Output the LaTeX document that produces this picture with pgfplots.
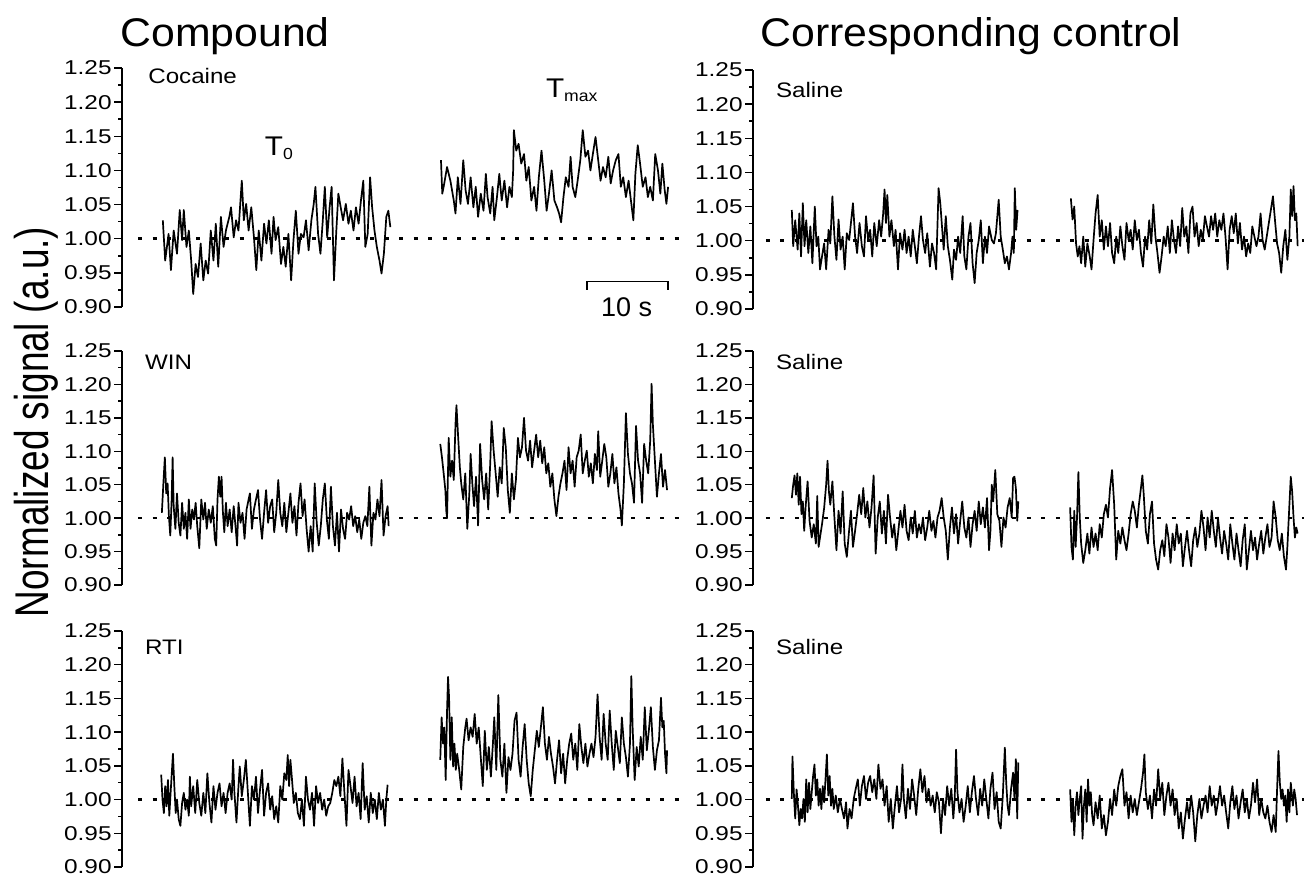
\documentclass[border=0pt]{standalone}
\usepackage{fontspec}
\setmainfont{Liberation Sans}
\usepackage{graphicx}
\usepackage{pgfplots}
\pgfplotsset{compat=1.18}

% one px of the reference = 0.5pt
\pgfplotsset{
  panel/.style={
    scale only axis, clip=false,
    hide x axis, axis y line*=left, axis line style={-, line width=0.75pt},
    xmin=0, ymin=0.90, ymax=1.25,
    ytick={0.9,0.95,1,1.05,1.1,1.15,1.2,1.25},
    minor y tick num=1, tick align=outside,
    major tick length=4pt, minor tick length=2pt,
    every tick/.style={black, line width=0.75pt},
    yticklabel style={font=\fontsize{10}{11}\selectfont, inner xsep=1pt},
    yticklabel={\scalebox{1.22}[1]{\pgfmathprintnumber[fixed,fixed zerofill,precision=2,assume math mode=true]{\tick}}},
  },
  left panel/.style={panel, xmax=70, width=283.5pt},
  right panel/.style={panel, xmax=68, width=275.4pt},
  sig/.style={black, line width=0.85pt, line join=round},
  dotline/.style={black, line width=1.3pt, dash pattern=on 2pt off 5.25pt},
}
\newcommand{\plab}[1]{\fontsize{10.5}{12}\selectfont\scalebox{1.15}[1]{#1}}
\newcommand{\tlab}[1]{\fontsize{13.5}{15}\selectfont\scalebox{1.1}[1]{T\textsubscript{\fontsize{8}{9}\selectfont #1}}}

\begin{document}
\begin{tikzpicture}
\path[use as bounding box] (0,0) rectangle (652pt,-439pt);

% titles
\node[anchor=base west, inner sep=0pt, font=\fontsize{20}{22}\selectfont] at (60pt,-23pt) {\scalebox{1.07}[1]{Compound}};
\node[anchor=base west, inner sep=0pt, font=\fontsize{20}{22}\selectfont] at (380pt,-23pt) {\scalebox{1.07}[1]{Corresponding control}};
\node[anchor=base, rotate=90, inner sep=0pt, font=\fontsize{18.5}{20}\selectfont] at (24pt,-211pt) {\scalebox{1}[1.28]{Normalized signal (a.u.)}};

% ---------- Cocaine ----------
\begin{axis}[left panel, height=119.5pt, at={(61pt,-153.5pt)}, anchor=south west]
\addplot[dotline] coordinates {(2,1) (70,1)};
% T0
\addplot[sig] coordinates {
(5.04,1.027)(5.33,0.968)(5.75,1.007)(6.04,0.954)(6.38,1.012)(6.79,0.978)(7.13,1.042)(7.42,0.998)(7.63,1.042)(7.96,0.988)
(8.25,1.012)(8.54,0.968)(8.79,0.919)(9.09,0.963)(9.38,0.944)(9.71,0.993)(10.04,0.939)(10.33,0.968)(10.63,0.949)(10.96,1.012)
(11.29,0.968)(11.58,1.022)(11.88,0.959)(12.21,1.032)(12.54,0.988)(12.83,1.012)(13.25,1.032)(13.46,1.046)(13.79,1.002)(14.08,1.027)
(14.38,1.012)(14.79,1.085)(15.04,1.027)(15.33,1.051)(15.63,1.012)(15.96,1.046)(16.29,1.002)(16.58,0.954)(16.88,1.012)(17.21,0.968)
(17.54,1.022)(17.83,0.993)(18.13,1.027)(18.46,0.978)(18.71,1.032)(18.96,0.998)(19.29,1.017)(19.63,0.963)(19.92,0.988)(20.21,0.959)
(20.54,1.007)(20.88,0.939)(21.17,0.998)(21.46,1.041)(21.79,0.978)(22.08,1.007)(22.42,1.002)(22.71,1.027)(23.04,0.983)(23.38,1.027)
(23.67,1.051)(23.88,1.076)(24.21,1.007)(24.50,0.978)(24.79,1.027)(25.04,1.076)(25.33,1.002)(25.63,1.046)(25.88,1.076)(26.17,0.939)
(26.46,1.012)(26.71,1.066)(27.00,1.046)(27.29,1.027)(27.63,1.051)(27.96,1.022)(28.25,1.041)(28.58,1.012)(28.88,1.046)(29.21,1.022)
(29.50,1.056)(29.79,1.085)(30.04,0.988)(30.33,1.007)(30.63,1.090)(30.88,1.046)(31.17,1.012)(31.46,0.988)(31.79,0.968)(32.04,0.949)
(32.33,0.978)(32.63,1.032)(32.88,1.041)(33.13,1.017)
};
% Tmax
\addplot[sig] coordinates {
(39.38,1.115)(39.54,1.066)(39.71,1.076)(40.13,1.105)(40.54,1.085)(40.96,1.056)(41.17,1.037)(41.46,1.090)(41.79,1.051)(42.13,1.115)
(42.42,1.071)(42.71,1.051)(43.04,1.090)(43.38,1.046)(43.67,1.076)(43.96,1.032)(44.29,1.066)(44.63,1.041)(44.92,1.095)(45.13,1.061)
(45.46,1.037)(45.75,1.076)(45.96,1.027)(46.29,1.061)(46.58,1.095)(46.88,1.056)(47.21,1.085)(47.54,1.046)(47.83,1.076)(48.13,1.061)
(48.29,1.100)(48.38,1.159)(48.67,1.129)(48.96,1.139)(49.29,1.110)(49.63,1.124)(49.92,1.085)(50.21,1.105)(50.54,1.056)(50.88,1.076)
(51.17,1.041)(51.46,1.090)(51.79,1.129)(52.13,1.085)(52.42,1.041)(52.71,1.066)(53.04,1.100)(53.38,1.056)(53.71,1.046)(53.96,1.037)
(54.21,1.024)(54.50,1.061)(54.79,1.090)(55.13,1.076)(55.38,1.120)(55.63,1.076)(55.96,1.061)(56.25,1.085)(56.58,1.115)(56.88,1.159)
(57.21,1.120)(57.54,1.129)(57.83,1.100)(58.13,1.124)(58.46,1.149)(58.79,1.115)(59.08,1.085)(59.38,1.105)(59.71,1.090)(60.04,1.120)
(60.33,1.081)(60.63,1.100)(60.96,1.115)(61.29,1.124)(61.58,1.076)(61.88,1.090)(62.21,1.061)(62.54,1.085)(62.83,1.056)(63.13,1.027)
(63.38,1.095)(63.67,1.137)(63.96,1.110)(64.29,1.076)(64.63,1.090)(64.92,1.061)(65.21,1.076)(65.54,1.056)(65.83,1.124)(66.17,1.100)
(66.46,1.066)(66.71,1.110)(67.00,1.071)(67.21,1.051)(67.42,1.076)
};
\node[anchor=base west, inner sep=0pt] at (axis cs:3.2,1.227) {\plab{Cocaine}};
\node[anchor=base west, inner sep=0pt] at (axis cs:17.6,1.122) {\tlab{0}};
\node[anchor=base west, inner sep=0pt] at (axis cs:52.3,1.207) {\tlab{max}};
\draw[black, line width=0.75pt] (axis cs:57.4,0.925) -- (axis cs:57.4,0.937) -- (axis cs:67.4,0.937) -- (axis cs:67.4,0.925);
\node[inner sep=0pt, font=\fontsize{13.5}{15}\selectfont] at (axis cs:62.3,0.899) {10 s};
\end{axis}

% ---------- Saline (top) ----------
\begin{axis}[right panel, height=119.5pt, at={(376.5pt,-154.5pt)}, anchor=south west]
\addplot[dotline] coordinates {(1.6,1) (68,1)};
\addplot[sig] coordinates {
(4.79,1.045)(4.96,0.992)(5.21,1.030)(5.51,0.987)(5.72,1.040)(5.93,0.977)(6.15,1.055)(6.36,0.992)(6.57,1.030)(6.83,0.982)
(7.08,1.021)(7.33,0.967)(7.63,1.050)(7.84,0.992)(8.06,1.006)(8.27,0.958)(8.52,0.977)(8.78,0.996)(9.03,0.958)(9.33,1.016)
(9.54,0.996)(9.80,1.065)(10.05,1.006)(10.30,0.972)(10.56,1.031)(10.81,0.987)(11.07,1.006)(11.32,0.958)(11.58,1.011)(11.87,1.001)
(12.09,1.026)(12.34,1.055)(12.60,1.006)(12.85,0.982)(13.15,1.026)(13.44,0.992)(13.70,0.977)(13.95,1.036)(14.21,1.001)(14.46,1.016)
(14.72,0.977)(14.97,1.026)(15.27,0.992)(15.57,1.030)(15.82,1.006)(16.07,1.040)(16.24,1.075)(16.41,1.026)(16.58,1.067)(16.84,1.006)
(17.09,1.030)(17.39,0.992)(17.60,1.016)(17.90,0.958)(18.15,1.011)(18.45,0.987)(18.71,1.016)(18.96,0.982)(19.21,1.006)(19.47,0.977)
(19.72,1.016)(19.98,0.992)(20.23,0.967)(20.49,1.006)(20.74,1.036)(20.98,1.001)(21.25,0.982)(21.51,1.011)(21.84,0.962)(22.10,0.996)
(22.35,0.982)(22.61,0.958)(22.91,1.077)(23.12,1.055)(23.33,1.021)(23.54,0.987)(23.80,1.036)(24.05,0.992)(24.31,0.972)(24.60,0.943)
(24.81,0.987)(25.07,0.972)(25.32,1.006)(25.58,0.982)(25.88,1.036)(26.09,0.977)(26.34,0.958)(26.60,1.006)(26.85,1.026)(27.11,0.967)
(27.36,0.938)(27.61,0.982)(27.87,1.001)(28.12,1.030)(28.38,0.967)(28.63,1.006)(28.89,0.982)(29.14,1.021)(29.48,1.001)(29.74,0.996)
(29.99,1.011)(30.33,1.060)(30.58,1.006)(30.84,0.987)(31.09,0.967)(31.35,0.977)(31.60,0.958)(31.86,0.982)(32.03,1.006)(32.20,0.982)
(32.32,1.077)(32.49,1.016)(32.66,1.045)
};
\addplot[sig] coordinates {
(39.24,1.062)(39.45,1.031)(39.66,1.050)(39.88,0.996)(40.09,0.977)(40.30,0.992)(40.51,0.967)(40.77,1.006)(41.02,0.962)(41.28,0.996)
(41.57,0.977)(41.79,0.958)(42.04,1.001)(42.29,1.040)(42.55,1.067)(42.80,1.006)(43.06,1.030)(43.31,0.987)(43.57,1.021)(43.82,0.992)
(44.08,1.026)(44.33,0.982)(44.59,0.967)(44.84,1.006)(45.09,0.982)(45.35,1.021)(45.60,0.992)(45.86,0.972)(46.11,1.026)(46.37,1.001)
(46.62,1.016)(46.88,0.987)(47.13,1.030)(47.39,1.001)(47.64,1.016)(47.89,0.982)(48.15,0.962)(48.40,1.006)(48.66,0.987)(48.91,1.030)
(49.17,0.996)(49.42,1.053)(49.68,1.006)(49.93,0.982)(50.19,0.953)(50.44,0.977)(50.70,1.006)(50.95,0.992)(51.20,1.021)(51.46,0.982)
(51.71,1.030)(51.97,1.001)(52.22,0.982)(52.48,1.021)(52.73,0.992)(52.99,1.048)(53.24,1.006)(53.50,1.021)(53.75,0.982)(54.00,1.040)
(54.26,1.050)(54.51,1.006)(54.77,1.026)(55.02,0.992)(55.28,1.016)(55.53,1.001)(55.79,1.036)(56.04,1.021)(56.30,1.006)(56.55,1.036)
(56.80,1.016)(57.06,1.040)(57.31,1.006)(57.57,1.030)(57.82,1.016)(58.08,1.040)(58.33,1.006)(58.59,0.958)(58.84,1.016)(59.10,1.036)
(59.35,1.011)(59.60,1.040)(59.86,0.996)(60.11,1.026)(60.37,0.987)(60.62,1.006)(60.88,0.977)(61.13,0.996)(61.39,0.982)(61.64,1.021)
(61.90,1.006)(62.15,0.992)(62.40,1.006)(62.66,1.040)(62.91,1.001)(63.17,0.987)(63.42,1.006)(63.68,1.026)(63.93,1.045)(64.19,1.065)
(64.44,1.030)(64.70,0.996)(64.95,0.982)(65.21,0.953)(65.46,0.992)(65.72,1.016)(65.97,0.972)(66.22,1.006)(66.39,1.075)(66.56,1.036)
(66.73,1.080)(66.90,1.030)(67.07,1.040)(67.24,0.992)
};
\node[anchor=base west, inner sep=0pt] at (axis cs:2.8,1.210) {\plab{Saline}};
\end{axis}

% ---------- WIN ----------
\begin{axis}[left panel, height=117pt, at={(61pt,-292.5pt)}, anchor=south west]
\addplot[dotline] coordinates {(2,1) (70,1)};
\addplot[sig] coordinates {
(4.92,1.008)(5.13,1.057)(5.29,1.091)(5.46,1.037)(5.63,1.052)(5.79,1.003)(5.96,0.974)(6.13,1.028)(6.25,1.091)(6.38,1.018)
(6.59,0.984)(6.79,1.037)(7.00,0.993)(7.21,0.974)(7.42,1.023)(7.63,0.984)(7.83,1.008)(8.04,0.969)(8.25,1.028)(8.46,0.984)
(8.67,1.013)(8.88,0.998)(9.09,1.023)(9.29,0.988)(9.54,0.955)(9.79,1.028)(10.04,0.998)(10.25,1.023)(10.46,0.984)(10.71,1.013)
(10.96,0.993)(11.21,1.018)(11.46,0.969)(11.63,0.959)(11.79,1.028)(11.96,1.062)(12.13,1.032)(12.29,1.062)(12.46,1.008)(12.63,0.979)
(12.83,1.023)(13.04,0.988)(13.29,1.013)(13.54,0.979)(13.79,1.018)(14.04,0.984)(14.21,0.959)(14.38,1.023)(14.63,0.993)(14.88,1.008)
(15.13,0.969)(15.38,1.013)(15.63,1.028)(15.79,1.037)(16.04,0.984)(16.29,1.013)(16.54,1.028)(16.79,1.042)(17.04,0.998)(17.29,0.969)
(17.54,1.008)(17.79,1.042)(18.04,0.993)(18.29,1.018)(18.54,1.028)(18.79,0.979)(19.04,1.008)(19.29,1.057)(19.54,1.008)(19.79,0.988)
(20.04,1.023)(20.29,0.979)(20.54,1.008)(20.79,1.037)(21.04,0.993)(21.29,1.018)(21.54,0.974)(21.79,1.023)(22.04,1.052)(22.29,1.003)
(22.54,1.028)(22.79,0.984)(23.04,0.950)(23.29,0.988)(23.54,0.950)(23.79,1.052)(24.04,0.993)(24.29,0.959)(24.54,0.988)(24.79,1.028)
(25.04,1.052)(25.29,0.998)(25.54,0.969)(25.79,1.047)(26.04,0.988)(26.29,0.959)(26.54,1.008)(26.79,0.950)(27.04,1.013)(27.29,0.984)
(27.54,0.969)(27.79,1.008)(28.04,0.998)(28.29,1.018)(28.54,0.988)(28.79,1.003)(29.04,0.979)(29.29,0.998)(29.54,0.969)(29.79,0.993)
(30.04,1.003)(30.29,0.988)(30.54,1.047)(30.79,0.959)(31.04,1.008)(31.29,0.998)(31.54,1.028)(31.79,1.003)(32.04,1.057)(32.29,0.974)
(32.54,1.003)(32.79,1.018)(32.92,0.988)
};
\addplot[sig] coordinates {
(39.29,1.111)(39.50,1.091)(39.71,1.067)(39.92,1.042)(40.04,1.010)(40.13,1.000)(40.33,1.120)(40.54,1.062)(40.75,1.086)(40.96,1.057)
(41.17,1.140)(41.29,1.169)(41.46,1.130)(41.71,1.076)(41.88,1.052)(42.13,1.028)(42.38,1.067)(42.63,0.984)(42.88,1.037)(43.04,1.096)
(43.25,1.052)(43.46,1.018)(43.71,1.062)(43.96,0.989)(44.21,1.111)(44.46,1.057)(44.71,1.028)(44.96,1.067)(45.21,1.013)(45.46,1.082)
(45.63,1.145)(45.88,1.101)(46.13,1.067)(46.38,1.032)(46.63,1.076)(46.88,1.052)(47.13,1.135)(47.38,1.106)(47.63,1.042)(47.88,1.008)
(48.13,1.067)(48.38,1.028)(48.63,1.057)(48.88,1.120)(49.13,1.091)(49.38,1.106)(49.63,1.150)(49.88,1.101)(50.13,1.086)(50.38,1.116)
(50.63,1.076)(50.88,1.101)(51.13,1.125)(51.38,1.091)(51.63,1.116)(51.88,1.082)(52.13,1.106)(52.38,1.067)(52.63,1.082)(52.88,1.047)
(53.13,1.067)(53.38,1.028)(53.63,1.003)(53.88,1.032)(54.13,1.052)(54.38,1.067)(54.63,1.086)(54.88,1.042)(55.13,1.106)(55.38,1.067)
(55.63,1.086)(55.88,1.047)(56.13,1.091)(56.38,1.101)(56.63,1.125)(56.88,1.067)(57.13,1.086)(57.38,1.101)(57.63,1.062)(57.88,1.082)
(58.13,1.052)(58.38,1.096)(58.63,1.072)(58.79,1.130)(59.04,1.062)(59.29,1.086)(59.54,1.111)(59.79,1.091)(60.04,1.047)(60.29,1.067)
(60.54,1.096)(60.79,1.052)(61.04,1.076)(61.29,1.037)(61.54,1.013)(61.71,0.989)(61.96,1.052)(62.21,1.157)(62.46,1.096)(62.71,1.067)
(62.96,1.052)(63.21,1.023)(63.46,1.138)(63.71,1.086)(63.96,1.067)(64.21,1.023)(64.46,1.111)(64.71,1.086)(64.96,1.067)(65.21,1.116)
(65.38,1.201)(65.54,1.140)(65.79,1.086)(66.04,1.032)(66.29,1.067)(66.54,1.096)(66.79,1.047)(67.04,1.072)(67.29,1.042)
};
\node[anchor=base west, inner sep=0pt] at (axis cs:2.8,1.222) {\plab{WIN}};
\end{axis}

% ---------- Saline (middle) ----------
\begin{axis}[right panel, height=117pt, at={(376.5pt,-292.5pt)}, anchor=south west]
\addplot[dotline] coordinates {(1.6,1) (68,1)};
\addplot[sig] coordinates {
(4.79,1.030)(4.96,1.050)(5.13,1.064)(5.30,1.035)(5.47,1.067)(5.64,1.020)(5.81,1.062)(5.98,1.006)(6.15,1.025)(6.32,0.981)
(6.49,1.016)(6.74,1.055)(6.98,0.996)(7.25,0.971)(7.50,0.991)(7.76,0.962)(7.93,1.033)(8.10,0.957)(8.27,0.971)(8.52,0.991)
(8.78,1.015)(9.03,1.050)(9.20,1.086)(9.37,1.040)(9.54,1.020)(9.80,1.055)(10.05,1.001)(10.30,0.952)(10.56,1.011)(10.81,0.977)
(11.07,1.040)(11.32,0.962)(11.58,0.942)(11.83,0.977)(12.09,1.011)(12.34,0.957)(12.60,0.981)(12.85,1.006)(13.11,1.035)(13.36,1.006)
(13.61,1.045)(13.87,1.001)(14.12,1.025)(14.38,0.986)(14.63,1.016)(14.89,1.064)(15.14,0.947)(15.40,1.001)(15.65,1.025)(15.91,0.977)
(16.16,1.011)(16.41,0.962)(16.67,1.035)(16.92,1.001)(17.18,0.971)(17.43,0.991)(17.69,0.952)(17.94,0.981)(18.20,1.011)(18.45,0.986)
(18.71,1.020)(18.96,0.981)(19.21,0.967)(19.47,1.001)(19.72,0.977)(19.98,1.011)(20.23,0.971)(20.49,0.991)(20.74,0.977)(20.98,1.001)
(21.25,0.967)(21.51,0.986)(21.76,1.011)(22.03,0.981)(22.27,0.996)(22.52,0.971)(22.78,1.001)(23.03,1.011)(23.29,1.030)(23.54,1.001)
(23.80,0.981)(24.05,0.938)(24.31,0.986)(24.56,1.016)(24.81,0.977)(25.07,1.006)(25.32,0.962)(25.58,0.996)(25.83,1.025)(26.09,0.986)
(26.34,0.971)(26.60,1.001)(26.85,0.957)(27.11,0.991)(27.36,1.011)(27.61,0.981)(27.87,1.025)(28.12,0.991)(28.38,1.016)(28.63,0.986)
(28.89,1.030)(29.14,0.952)(29.31,0.981)(29.48,1.050)(29.65,1.025)(29.91,1.072)(30.16,1.006)(30.42,0.996)(30.67,0.957)(30.92,1.001)
(31.18,0.986)(31.43,1.016)(31.69,1.030)(31.94,1.001)(32.11,1.060)(32.28,1.062)(32.45,1.045)(32.62,0.996)(32.75,1.025)
};
\addplot[sig] coordinates {
(39.15,1.016)(39.32,0.957)(39.49,0.938)(39.66,1.011)(39.83,0.957)(40.00,1.001)(40.17,1.069)(40.34,1.001)(40.51,0.962)(40.77,0.933)
(41.02,0.952)(41.28,0.977)(41.53,0.947)(41.79,0.986)(42.04,0.957)(42.29,0.977)(42.55,0.952)(42.80,0.991)(43.06,0.971)(43.31,1.006)
(43.57,1.020)(43.82,1.001)(44.08,1.045)(44.33,1.072)(44.59,1.020)(44.84,0.938)(45.09,0.981)(45.35,0.962)(45.60,0.986)(45.86,0.967)
(46.11,0.952)(46.37,0.977)(46.62,1.006)(46.88,1.025)(47.13,1.011)(47.39,0.986)(47.64,1.020)(47.89,1.045)(48.07,1.064)(48.24,1.035)
(48.49,0.981)(48.75,0.962)(49.00,1.006)(49.26,1.025)(49.51,0.962)(49.76,0.938)(50.02,0.923)(50.27,0.952)(50.53,0.967)(50.78,0.943)
(51.04,0.991)(51.29,0.971)(51.55,0.933)(51.80,0.977)(52.05,0.952)(52.31,0.991)(52.56,0.962)(52.82,0.977)(53.07,0.928)(53.33,0.957)
(53.58,0.981)(53.83,0.952)(54.09,0.928)(54.34,0.967)(54.60,0.986)(54.85,0.957)(55.11,0.977)(55.36,1.011)(55.62,0.986)(55.87,0.952)
(56.12,1.001)(56.38,0.971)(56.63,1.011)(56.89,0.981)(57.14,0.957)(57.40,1.001)(57.65,0.971)(57.91,0.947)(58.16,0.981)(58.41,0.962)
(58.67,0.938)(58.92,0.991)(59.18,0.962)(59.43,0.938)(59.69,0.977)(59.94,0.952)(60.20,0.928)(60.45,0.967)(60.71,0.991)(60.96,0.923)
(61.22,0.952)(61.47,0.981)(61.73,0.952)(61.98,0.971)(62.23,0.938)(62.49,0.962)(62.74,0.981)(63.00,0.947)(63.25,0.971)(63.51,0.991)
(63.76,0.957)(64.02,0.971)(64.27,1.025)(64.53,1.001)(64.78,0.967)(65.03,0.952)(65.29,0.977)(65.54,0.943)(65.80,0.923)(65.97,0.957)
(66.22,1.020)(66.39,1.062)(66.56,1.040)(66.73,1.001)(66.90,0.971)(67.07,0.986)(67.24,0.977)
};
\node[anchor=base west, inner sep=0pt] at (axis cs:2.8,1.222) {\plab{Saline}};
\end{axis}

% ---------- RTI ----------
\begin{axis}[left panel, height=118pt, at={(61pt,-433.5pt)}, anchor=south west]
\addplot[dotline] coordinates {(2,1) (70,1)};
\addplot[sig] coordinates {
(4.84,1.037)(5.00,1.000)(5.17,0.980)(5.33,1.020)(5.50,0.990)(5.67,1.029)(5.84,0.976)(6.00,1.010)(6.17,1.044)(6.29,1.068)
(6.46,1.020)(6.63,0.980)(6.79,1.000)(7.00,0.971)(7.21,0.961)(7.42,0.995)(7.63,1.010)(7.83,0.985)(8.04,1.000)(8.25,0.976)
(8.38,1.034)(8.54,0.990)(8.79,1.020)(9.04,0.980)(9.29,1.029)(9.54,0.995)(9.79,0.976)(10.04,1.010)(10.29,0.980)(10.54,1.039)
(10.79,0.995)(11.04,0.966)(11.29,1.020)(11.54,0.985)(11.79,1.010)(12.04,1.024)(12.29,0.990)(12.54,1.010)(12.79,0.980)(13.04,1.010)
(13.29,1.024)(13.54,1.000)(13.71,1.059)(13.88,1.010)(14.13,0.966)(14.38,1.020)(14.54,1.049)(14.79,1.005)(15.04,1.029)(15.29,1.059)
(15.54,1.010)(15.79,0.961)(16.04,1.020)(16.29,1.000)(16.54,1.034)(16.79,0.980)(17.04,1.015)(17.29,1.044)(17.54,0.976)(17.79,1.010)
(18.04,1.024)(18.29,0.985)(18.54,1.005)(18.79,0.971)(19.04,0.990)(19.29,0.966)(19.54,1.020)(19.79,1.000)(20.04,1.039)(20.29,1.029)
(20.46,1.066)(20.63,1.020)(20.79,1.059)(20.96,1.034)(21.21,0.995)(21.46,1.010)(21.71,0.980)(21.96,0.971)(22.21,1.000)(22.46,0.961)
(22.71,1.034)(22.96,1.000)(23.21,0.985)(23.46,1.010)(23.71,0.961)(23.96,1.020)(24.21,0.995)(24.46,1.010)(24.71,0.985)(24.96,1.000)
(25.21,0.976)(25.46,0.990)(25.71,0.995)(25.96,1.010)(26.21,1.029)(26.46,1.020)(26.71,1.034)(26.96,1.005)(27.21,1.061)(27.46,1.010)
(27.71,0.961)(27.96,1.044)(28.21,1.020)(28.46,0.995)(28.71,1.034)(28.96,0.990)(29.21,1.010)(29.46,0.971)(29.71,1.054)(29.96,0.985)
(30.21,1.005)(30.46,0.966)(30.71,1.010)(30.96,0.980)(31.21,1.000)(31.46,0.971)(31.71,1.010)(31.96,0.985)(32.21,1.000)(32.46,0.961)
(32.63,1.000)(32.79,1.022)
};
\addplot[sig] coordinates {
(39.29,1.059)(39.46,1.122)(39.63,1.083)(39.79,1.107)(39.96,1.029)(40.13,1.132)(40.25,1.182)(40.38,1.151)(40.54,1.059)(40.71,1.122)
(40.88,1.049)(41.04,1.083)(41.21,1.044)(41.38,1.068)(41.63,1.044)(41.88,1.015)(42.13,1.078)(42.38,1.107)(42.54,1.120)(42.79,1.088)
(43.04,1.107)(43.29,1.093)(43.54,1.127)(43.79,1.083)(44.04,1.107)(44.29,1.063)(44.54,1.020)(44.79,1.102)(45.04,1.044)(45.29,1.078)
(45.54,1.034)(45.79,1.083)(45.96,1.122)(46.21,1.044)(46.46,1.155)(46.71,1.059)(46.96,1.034)(47.21,1.083)(47.46,1.010)(47.71,1.063)
(47.96,1.044)(48.21,1.068)(48.46,1.117)(48.71,1.129)(48.96,1.059)(49.21,1.034)(49.46,1.078)(49.71,1.112)(49.96,1.059)(50.21,1.024)
(50.46,1.005)(50.71,1.044)(50.96,1.073)(51.21,1.102)(51.46,1.078)(51.71,1.107)(51.96,1.137)(52.21,1.083)(52.46,1.059)(52.71,1.093)
(52.96,1.068)(53.21,1.049)(53.46,1.024)(53.71,1.059)(53.96,1.088)(54.21,1.039)(54.46,1.068)(54.71,1.024)(54.96,1.059)(55.21,1.083)
(55.46,1.098)(55.71,1.059)(55.96,1.083)(56.21,1.044)(56.46,1.112)(56.71,1.078)(56.96,1.054)(57.21,1.083)(57.46,1.049)(57.71,1.068)
(57.96,1.083)(58.21,1.063)(58.46,1.093)(58.71,1.156)(58.96,1.093)(59.21,1.059)(59.46,1.127)(59.71,1.083)(59.96,1.059)(60.21,1.132)
(60.46,1.083)(60.71,1.044)(60.96,1.102)(61.21,1.078)(61.46,1.054)(61.71,1.122)(61.96,1.083)(62.21,1.063)(62.46,1.034)(62.71,1.083)
(62.88,1.183)(63.04,1.107)(63.29,1.029)(63.54,1.078)(63.79,1.049)(64.04,1.093)(64.29,1.059)(64.54,1.137)(64.79,1.073)(65.04,1.102)
(65.29,1.137)(65.54,1.078)(65.79,1.044)(66.04,1.073)(66.29,1.088)(66.54,1.151)(66.71,1.107)(66.88,1.117)(67.04,1.068)(67.21,1.039)
(67.29,1.073)
};
\node[anchor=base west, inner sep=0pt] at (axis cs:2.8,1.215) {\plab{RTI}};
\end{axis}

% ---------- Saline (bottom) ----------
\begin{axis}[right panel, height=118pt, at={(376.5pt,-433.5pt)}, anchor=south west]
\addplot[dotline] coordinates {(1.6,1) (68,1)};
\addplot[sig] coordinates {
(4.79,1.001)(4.87,1.064)(5.04,1.010)(5.21,0.972)(5.38,1.015)(5.55,0.991)(5.72,0.962)(5.89,0.986)(6.06,0.972)(6.23,1.001)
(6.40,0.967)(6.57,1.030)(6.74,0.981)(6.91,1.025)(7.08,0.986)(7.25,1.011)(7.42,1.035)(7.59,1.052)(7.76,1.006)(7.93,1.030)
(8.10,0.991)(8.27,1.016)(8.44,0.986)(8.61,1.020)(8.78,0.996)(8.95,1.030)(9.12,1.067)(9.29,1.006)(9.46,1.035)(9.63,0.991)
(9.80,1.016)(9.97,0.986)(10.22,1.006)(10.47,0.981)(10.73,1.001)(10.98,0.986)(11.24,0.972)(11.49,0.996)(11.66,0.957)(11.92,0.986)
(12.17,0.972)(12.43,1.001)(12.68,1.016)(12.94,1.030)(13.19,0.991)(13.44,1.020)(13.70,1.035)(13.95,1.001)(14.21,1.025)(14.46,1.035)
(14.72,1.011)(14.97,1.030)(15.23,1.001)(15.48,1.052)(15.74,1.016)(15.99,1.030)(16.24,0.991)(16.50,1.020)(16.75,0.967)(17.01,1.001)
(17.26,0.957)(17.52,0.991)(17.77,1.020)(18.03,0.981)(18.28,1.001)(18.45,1.052)(18.62,1.001)(18.87,0.972)(19.13,1.016)(19.38,0.986)
(19.64,1.030)(19.89,1.006)(20.15,0.977)(20.40,1.016)(20.66,1.045)(20.91,1.011)(21.17,1.035)(21.42,0.996)(21.68,1.016)(21.93,0.991)
(22.18,1.006)(22.44,0.981)(22.69,1.011)(22.95,0.996)(23.20,0.950)(23.46,1.001)(23.71,0.977)(23.97,1.020)(24.22,0.991)(24.48,1.016)
(24.73,0.972)(24.90,1.001)(25.07,1.074)(25.24,1.011)(25.49,0.981)(25.75,1.001)(26.00,0.967)(26.26,0.991)(26.51,1.020)(26.77,0.981)
(27.02,1.011)(27.28,1.035)(27.53,1.001)(27.79,0.977)(28.04,1.016)(28.29,0.991)(28.55,1.030)(28.80,1.001)(29.06,0.972)(29.31,1.016)
(29.57,1.040)(29.82,0.986)(30.08,1.011)(30.33,0.967)(30.58,0.957)(30.84,1.006)(31.09,1.077)(31.26,1.025)(31.43,0.991)(31.60,0.977)
(31.86,1.016)(32.11,1.040)(32.28,1.001)(32.45,1.060)(32.62,0.972)(32.75,1.055)
};
\addplot[sig] coordinates {
(39.15,1.015)(39.32,0.967)(39.49,1.001)(39.66,0.947)(39.83,0.991)(40.00,1.011)(40.17,0.977)(40.34,1.001)(40.51,1.020)(40.68,0.942)
(40.85,0.991)(41.02,1.015)(41.19,0.967)(41.36,1.030)(41.53,0.991)(41.70,1.011)(41.87,0.977)(42.04,0.962)(42.29,0.996)(42.55,0.972)
(42.80,1.006)(43.06,0.957)(43.31,0.977)(43.57,0.947)(43.82,0.967)(44.08,1.001)(44.33,0.977)(44.59,1.015)(44.84,0.991)(45.09,1.020)
(45.35,1.035)(45.60,1.045)(45.86,0.991)(46.11,1.011)(46.37,0.972)(46.62,1.006)(46.88,0.981)(47.13,1.001)(47.39,0.977)(47.64,0.996)
(47.89,1.015)(48.15,1.040)(48.32,1.067)(48.49,1.011)(48.75,0.986)(49.00,1.006)(49.26,0.972)(49.51,1.015)(49.76,0.991)(50.02,1.045)
(50.27,1.001)(50.53,1.025)(50.78,0.977)(51.04,1.006)(51.29,1.025)(51.55,0.991)(51.80,1.015)(52.05,0.977)(52.31,1.001)(52.56,0.957)
(52.82,0.981)(53.07,0.942)(53.33,0.972)(53.58,0.996)(53.83,0.972)(54.09,1.006)(54.34,0.981)(54.60,0.938)(54.85,0.977)(55.11,1.001)
(55.36,0.972)(55.62,0.991)(55.87,1.006)(56.12,0.981)(56.38,1.020)(56.63,0.991)(56.89,1.006)(57.14,0.977)(57.40,0.996)(57.65,1.020)
(57.91,0.991)(58.16,1.006)(58.41,0.981)(58.67,0.957)(58.92,0.996)(59.18,1.020)(59.43,0.986)(59.69,1.006)(59.94,0.972)(60.20,0.996)
(60.45,1.015)(60.71,0.981)(60.96,1.001)(61.22,0.972)(61.47,0.991)(61.73,1.025)(61.98,0.996)(62.23,1.030)(62.49,0.977)(62.74,1.001)
(63.00,0.981)(63.25,0.972)(63.51,0.991)(63.76,0.967)(64.02,0.952)(64.27,0.977)(64.53,0.952)(64.70,1.015)(64.87,1.072)(65.04,1.025)
(65.21,1.001)(65.38,1.015)(65.54,0.991)(65.71,1.006)(65.88,0.967)(66.05,1.015)(66.22,0.981)(66.39,1.025)(66.65,0.991)(66.82,1.015)
(66.99,1.001)(67.16,0.977)
};
\node[anchor=base west, inner sep=0pt] at (axis cs:2.8,1.215) {\plab{Saline}};
\end{axis}
\end{tikzpicture}
\end{document}
